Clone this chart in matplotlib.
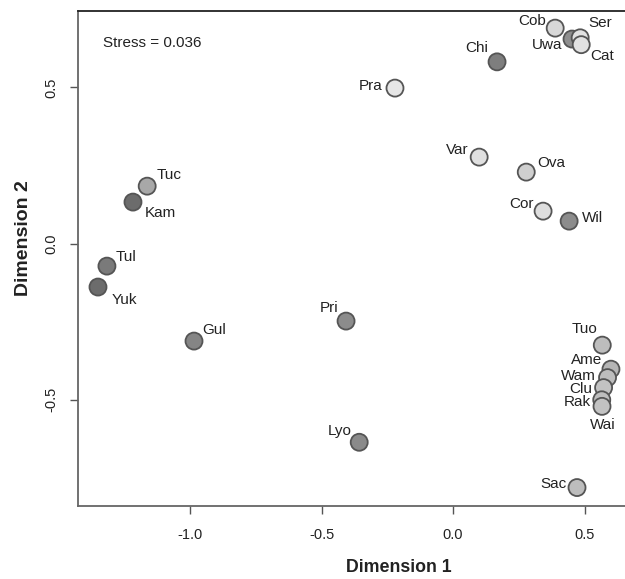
import matplotlib.pyplot as plt

plt.rcParams['font.family'] = ['Liberation Sans', 'DejaVu Sans']

# MDS coordinates
names = ['Cob', 'Uwa', 'Ser', 'Cat', 'Chi', 'Pra', 'Var', 'Ova', 'Cor', 'Wil',
         'Tuc', 'Kam', 'Tul', 'Yuk', 'Gul', 'Pri', 'Lyo', 'Tuo', 'Ame', 'Wam',
         'Clu', 'Rak', 'Wai', 'Sac']
dim1 = [0.388, 0.452, 0.483, 0.487, 0.167, -0.221, 0.099, 0.278, 0.342, 0.441,
        -1.163, -1.217, -1.316, -1.350, -0.985, -0.407, -0.357, 0.567, 0.600, 0.587,
        0.572, 0.565, 0.566, 0.471]
dim2 = [0.690, 0.655, 0.659, 0.637, 0.582, 0.498, 0.277, 0.229, 0.104, 0.072,
        0.184, 0.133, -0.072, -0.139, -0.312, -0.248, -0.636, -0.325, -0.402, -0.429,
        -0.461, -0.500, -0.521, -0.781]
shade = ['#d8d8d8', '#8e8e8e', '#e2e2e2', '#e2e2e2', '#7e7e7e', '#e6e6e6', '#e0e0e0',
         '#cfcfcf', '#dedede', '#8c8c8c', '#a8a8a8', '#6c6c6c', '#7a7a7a', '#6c6c6c',
         '#858585', '#8c8c8c', '#8a8a8a', '#bdbdbd', '#b5b5b5', '#bdbdbd', '#c2c2c2',
         '#bdbdbd', '#c2c2c2', '#bdbdbd']
stress = 0.036

# label offsets from the point, in pixels (x right, y up)
label_off = {
    'Cob': (-23, 7), 'Ser': (20, 15), 'Uwa': (-25, -6), 'Cat': (21, -11),
    'Chi': (-20, 14), 'Pra': (-24, 2), 'Var': (-22, 7), 'Ova': (25, 9),
    'Cor': (-22, 7), 'Wil': (23, 3), 'Tuc': (22, 11), 'Kam': (27, -11),
    'Tul': (19, 9), 'Yuk': (26, -13), 'Gul': (20, 11), 'Pri': (-17, 13),
    'Lyo': (-20, 11), 'Tuo': (-18, 16), 'Ame': (-24, 9), 'Wam': (-29, 2),
    'Clu': (-23, -1), 'Rak': (-24, -2), 'Wai': (1, -19), 'Sac': (-24, 4),
}

fig = plt.figure(figsize=(6.25, 5.79), dpi=100)
ax = fig.add_axes([0.1248, 0.1261, 0.8864, 0.855])

ax.scatter(dim1, dim2, s=150, c=shade, edgecolors='#555555', linewidths=1.3, zorder=3)
for n, x, y in zip(names, dim1, dim2):
    dx, dy = label_off[n]
    ax.annotate(n, (x, y), xytext=(dx, dy), textcoords='offset pixels',
                ha='center', va='center', fontsize=11, color='#222222', zorder=4)

ax.text(-1.33, 0.643, f'Stress = {stress}', ha='left', va='center', fontsize=11,
        color='#222222')

ax.set_xlim(-1.426, 0.680)
ax.set_ylim(-0.840, 0.745)
ax.set_xticks([-1.0, -0.5, 0.0, 0.5])
ax.set_yticks([-0.5, 0.0, 0.5])
ax.set_xticklabels(['-1.0', '-0.5', '0.0', '0.5'])
ax.set_yticklabels(['-0.5', '0.0', '0.5'], rotation=90, va='center')
ax.tick_params(direction='out', length=6, width=1, colors='#555555',
               labelcolor='#222222', labelsize=10.5)
ax.tick_params(axis='x', pad=10)
ax.tick_params(axis='y', pad=8)

for side in ['left', 'bottom']:
    ax.spines[side].set_color('#666666')
    ax.spines[side].set_linewidth(1.3)
ax.spines['top'].set_color('#222222')
ax.spines['top'].set_linewidth(1.3)

ax.set_xlabel('Dimension 1', fontsize=12.8, fontweight='bold', color='#222222')
ax.set_ylabel('Dimension 2', fontsize=14, fontweight='bold', color='#222222')
ax.xaxis.set_label_coords((399 - 78) / (632 - 78), -(568 - 506) / 495)
ax.xaxis.label.set_va('center')
ax.yaxis.set_label_coords(-(78 - 23) / 554, (506 - 238) / 495)
ax.yaxis.label.set_va('center')

fig.savefig('out.png', dpi=100)
